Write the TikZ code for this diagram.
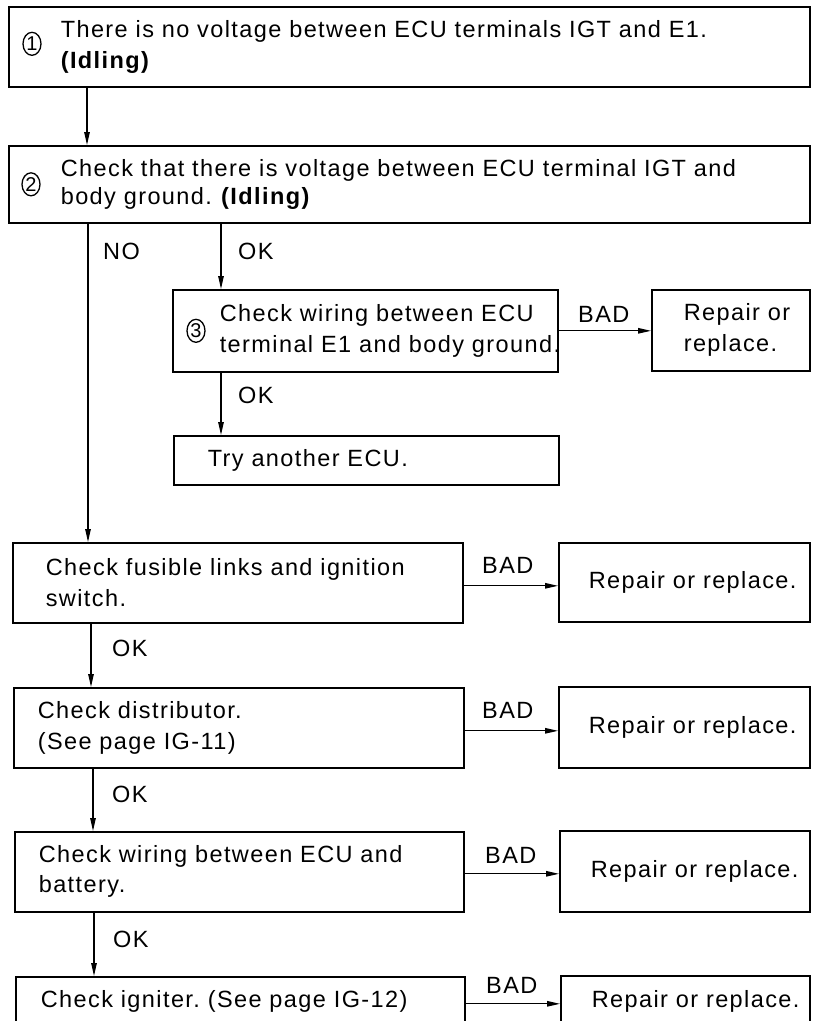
\documentclass[tikz,border=0pt]{standalone}
\usepackage{fontspec}
\setmainfont{Liberation Sans}[LetterSpace=6]
\usetikzlibrary{arrows.meta,shapes.geometric,calc}
\frenchspacing
\tikzset{
  box/.style={draw, line width=1.6pt, rectangle, anchor=north west, align=left, inner ysep=0pt},
  arr/.style={line width=1.2pt, -{Triangle[length=13pt,width=5.5pt]}},
  lbl/.style={anchor=base west, inner sep=0pt, font=\fontsize{23.5pt}{28pt}\selectfont},
  num/.style={draw, ellipse, line width=1.3pt, minimum width=18pt, minimum height=23pt, inner sep=0pt, font=\fontsize{20pt}{20pt}\selectfont},
}
\newcommand\fs[1]{\fontsize{23.5pt}{#1pt}\selectfont}
\begin{document}
\begin{tikzpicture}[x=1pt,y=-1pt]
\useasboundingbox (0,0) rectangle (812,1021);
\fill[white] (0,0) rectangle (812,1021);
\clip (0,0) rectangle (812,1021);

% boxes
\node[box, minimum width=801pt, minimum height=80pt, text width=697pt, inner xsep=52pt, font=\fs{31}] (B1) at (8,6)
  {\mbox{There is no voltage between ECU terminals IGT and E1.}\\\textbf{(Idling)}};
\node[box, minimum width=801pt, minimum height=77pt, text width=697pt, inner xsep=52pt, font=\fs{28}] (B2) at (8,145)
  {\mbox{Check that there is voltage between ECU terminal IGT and}\\\mbox{body ground. \textbf{(Idling)}}};
\node[box, minimum width=385pt, minimum height=82pt, text width=291pt, inner xsep=47pt, font=\fs{31}] (B3) at (172,289)
  {\mbox{Check wiring between ECU}\\\mbox{terminal E1 and body ground.}};
\node[box, minimum width=158pt, minimum height=81pt, text width=94pt, inner xsep=32pt, font=\fs{31}] (R3) at (651,289)
  {\mbox{Repair or}\\\mbox{replace.}};
\node[box, minimum width=385pt, minimum height=49pt, text width=317pt, inner xsep=34pt, font=\fs{28}] (Try) at (173,435)
  {\mbox{Try another ECU.}};
\node[box, minimum width=450pt, minimum height=80pt, text width=384pt, inner xsep=33pt, font=\fs{31}] (F) at (12,542)
  {\mbox{Check fusible links and ignition}\\\mbox{switch.}};
\node[box, minimum width=251pt, minimum height=79pt, text width=191pt, inner xsep=30pt, font=\fs{28}] (RF) at (558,542)
  {\mbox{Repair or replace.}};
\node[box, minimum width=450pt, minimum height=80pt, text width=402pt, inner xsep=24pt, font=\fs{31}] (D) at (13,687)
  {\mbox{Check distributor.}\\\mbox{(See page IG-11)}};
\node[box, minimum width=251pt, minimum height=81pt, text width=191pt, inner xsep=30pt, font=\fs{28}] (RD) at (558,686)
  {\mbox{Repair or replace.}};
\node[box, minimum width=449pt, minimum height=80pt, text width=401pt, inner xsep=24pt, font=\fs{30}] (W) at (14,831)
  {\mbox{Check wiring between ECU and}\\\mbox{battery.}};
\node[box, minimum width=250pt, minimum height=81pt, text width=188pt, inner xsep=31pt, font=\fs{28}] (RW) at (559,830)
  {\mbox{Repair or replace.}};
\node[box, minimum width=449pt, minimum height=50pt, text width=399pt, inner xsep=25pt, font=\fs{28}] (G) at (15,976)
  {\mbox{Check igniter. (See page IG-12)}};
\node[box, minimum width=249pt, minimum height=51pt, text width=187pt, inner xsep=31pt, font=\fs{28}] (RG) at (560,975)
  {\mbox{Repair or replace.}};

% circled numbers
\node[num] (c1) at ([xshift=24pt,yshift=3pt]B1.west) {1};
\node[num] (c2) at ([xshift=23pt]B2.west) {2};
\node[num] (c3) at ([xshift=24pt]B3.west) {3};

% connectors
\draw[arr] ([xshift=79pt]B1.south west) -- ([xshift=79pt]B2.north west);
\draw[arr] ([xshift=80pt]B2.south west) -- ([xshift=76pt]F.north west);
\draw[arr] ([xshift=213pt]B2.south west) -- ([xshift=49pt]B3.north west);
\draw[arr] ([xshift=49pt]B3.south west) -- ([xshift=48pt]Try.north west);
\draw[arr] (B3.east) -- (B3.east -| R3.west);
\draw[arr] ([xshift=79pt]F.south west) -- ([xshift=78pt]D.north west);
\draw[arr] ([xshift=80pt]D.south west) -- ([xshift=79pt]W.north west);
\draw[arr] ([xshift=80pt]W.south west) -- ([xshift=79pt]G.north west);
\draw[arr] ([yshift=-3pt]F.east) -- ([yshift=-3pt]F.east -| RF.west);
\draw[arr] ([yshift=-3pt]D.east) -- ([yshift=-3pt]D.east -| RD.west);
\draw[arr] ([yshift=-2pt]W.east) -- ([yshift=-2pt]W.east -| RW.west);
\draw[arr] ([yshift=-2pt]G.east) -- ([yshift=-2pt]G.east -| RG.west);

% labels
\node[lbl] (lNO) at (103,259) {NO};
\node[lbl] (lOK1) at (238,259) {OK};
\node[lbl] (lOK2) at (238,403) {OK};
\node[lbl] (lBAD3) at (578,322) {BAD};
\node[lbl] (lOKF) at (112,656) {OK};
\node[lbl] (lOKD) at (112,802) {OK};
\node[lbl] (lOKW) at (113,947) {OK};
\node[lbl] (lBADF) at (482,573) {BAD};
\node[lbl] (lBADD) at (482,718) {BAD};
\node[lbl] (lBADW) at (485,863) {BAD};
\node[lbl] (lBADG) at (486,993) {BAD};
\end{tikzpicture}
\end{document}
